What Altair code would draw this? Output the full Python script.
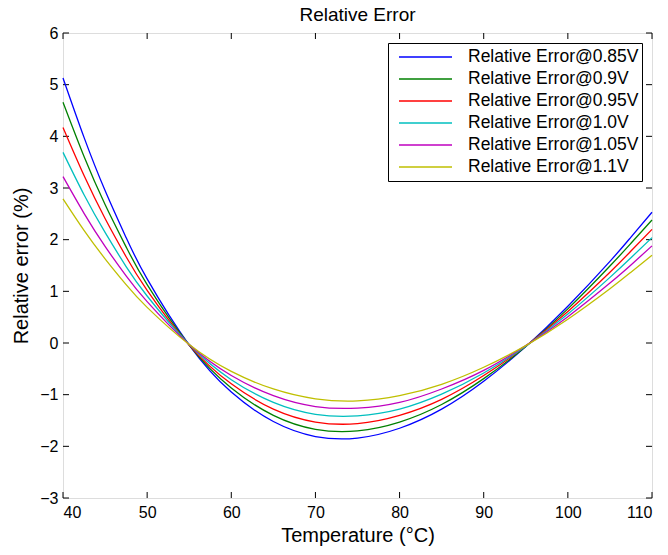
import altair as alt
import pandas as pd

temps = [40, 42.5, 45, 47.5, 50, 55, 60, 65, 70, 75, 80, 85, 90, 95, 100, 105, 107.5, 110]
series_names = [
    "Relative Error@0.85V",
    "Relative Error@0.9V",
    "Relative Error@0.95V",
    "Relative Error@1.0V",
    "Relative Error@1.05V",
    "Relative Error@1.1V",
]
err_085 = [5.13, 3.98, 2.95, 2.04, 1.24, -0.04, -0.95, -1.52, -1.81, -1.84, -1.65, -1.28, -0.74, -0.07, 0.71, 1.58, 2.05, 2.53]
err_090 = [4.66, 3.61, 2.68, 1.86, 1.13, -0.04, -0.87, -1.40, -1.67, -1.70, -1.53, -1.19, -0.69, -0.07, 0.66, 1.49, 1.93, 2.38]
err_095 = [4.17, 3.24, 2.41, 1.67, 1.02, -0.04, -0.79, -1.28, -1.53, -1.56, -1.40, -1.09, -0.63, -0.06, 0.61, 1.37, 1.78, 2.20]
err_100 = [3.69, 2.87, 2.14, 1.48, 0.91, -0.03, -0.71, -1.15, -1.38, -1.41, -1.28, -0.99, -0.58, -0.06, 0.56, 1.27, 1.65, 2.04]
err_105 = [3.22, 2.51, 1.87, 1.30, 0.80, -0.03, -0.63, -1.02, -1.23, -1.26, -1.15, -0.89, -0.53, -0.05, 0.51, 1.16, 1.51, 1.88]
err_110 = [2.79, 2.18, 1.63, 1.13, 0.69, -0.03, -0.55, -0.89, -1.08, -1.12, -1.02, -0.80, -0.47, -0.05, 0.46, 1.05, 1.37, 1.70]
colors = ["#0000ff", "#008000", "#ff0000", "#00bfbf", "#bf00bf", "#bfbf00"]

x_ticks = [40, 50, 60, 70, 80, 90, 100, 110]
y_ticks = [-3, -2, -1, 0, 1, 2, 3, 4, 5, 6]

W, H = 589, 465
TICK = 6

rows = []
for name, vals in zip(series_names, [err_085, err_090, err_095, err_100, err_105, err_110]):
    for t, v in zip(temps, vals):
        rows.append({"T": t, "err": v, "series": name})
df = pd.DataFrame(rows)
df_xt = pd.DataFrame({"t": x_ticks})
df_yt = pd.DataFrame({"t": y_ticks})

FONT = "Liberation Sans"
xscale = alt.Scale(domain=[40, 110], nice=False, zero=False)
yscale = alt.Scale(domain=[-3, 6], nice=False, zero=False)

lines = alt.Chart(df).mark_line(strokeWidth=1.3, interpolate="natural").encode(
    x=alt.X("T:Q", scale=xscale,
            axis=alt.Axis(values=x_ticks, title="Temperature (°C)", grid=False, domain=False,
                          ticks=False, labelPadding=6, labelFontSize=16, titleFontSize=20,
                          titlePadding=5, labelColor="black", titleColor="black",
                          titleFontWeight="normal", labelFont=FONT, titleFont=FONT)),
    y=alt.Y("err:Q", scale=yscale,
            axis=alt.Axis(values=y_ticks, title="Relative error (%)", grid=False, domain=False,
                          ticks=False, labelPadding=5, labelFontSize=16, titleFontSize=20,
                          titlePadding=8, labelColor="black", titleColor="black",
                          titleFontWeight="normal", labelFont=FONT, titleFont=FONT)),
    color=alt.Color("series:N", scale=alt.Scale(domain=series_names, range=colors),
                    sort=series_names,
                    legend=alt.Legend(title=None, orient="none", legendX=325, legendY=10,
                                      symbolType="stroke", symbolSize=2809, symbolStrokeWidth=1.3,
                                      clipHeight=22, rowPadding=0, padding=3, symbolOffset=7,
                                      labelOffset=15, labelFontSize=17.5, labelFont=FONT,
                                      labelColor="black", strokeColor="black", fillColor="white",
                                      labelLimit=400)),
)

bottom_ticks = alt.Chart(df_xt).mark_rule(color="black", strokeWidth=1).encode(
    x=alt.X("t:Q", scale=xscale), y=alt.value(H), y2=alt.value(H - TICK))
top_ticks = alt.Chart(df_xt).mark_rule(color="black", strokeWidth=1).encode(
    x=alt.X("t:Q", scale=xscale), y=alt.value(0), y2=alt.value(TICK))
left_ticks = alt.Chart(df_yt).mark_rule(color="black", strokeWidth=1).encode(
    y=alt.Y("t:Q", scale=yscale), x=alt.value(0), x2=alt.value(TICK))
right_ticks = alt.Chart(df_yt).mark_rule(color="black", strokeWidth=1).encode(
    y=alt.Y("t:Q", scale=yscale), x=alt.value(W), x2=alt.value(W - TICK))

chart = alt.layer(bottom_ticks, top_ticks, left_ticks, right_ticks, lines).properties(
    width=W, height=H,
    title=alt.TitleParams("Relative Error", fontSize=19, font=FONT, fontWeight="normal",
                          color="black", offset=0, frame="group"),
    autosize=alt.AutoSizeParams(type="none"),
    padding={"left": 55, "top": 25, "right": 8, "bottom": 49},
).configure_view(stroke="black", strokeWidth=1.2).configure(background="white")

chart.save("out.html", embed_options={"renderer": "svg", "actions": False})
